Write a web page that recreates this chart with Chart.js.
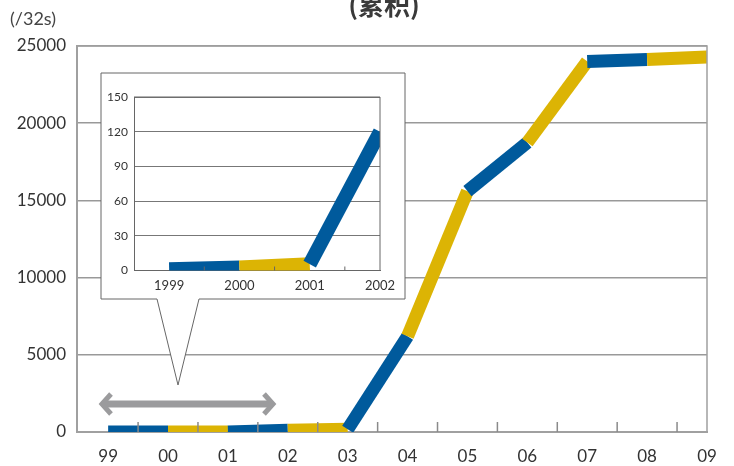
<!DOCTYPE html>
<html>
<head>
<meta charset="utf-8">
<script src="https://cdn.jsdelivr.net/npm/chart.js@4.4.1/dist/chart.umd.min.js"></script>
<style>
  html, body { margin: 0; padding: 0; background: #fff; }
  #wrap { position: relative; width: 734px; height: 466px; }
  #mainChart { position: absolute; left: 0; top: 0; }
  #insetChart { position: absolute; left: 101px; top: 73px; }
</style>
</head>
<body>
<div id="wrap">
  <canvas id="mainChart" width="734" height="466"></canvas>
  <canvas id="insetChart" width="304" height="226"></canvas>
</div>
<script>
// main chart data (cumulative)
let years = ['99', '00', '01', '02', '03', '04', '05', '06', '07', '08', '09'];
let totals = [1, 2.5, 5.5, 120, 180, 6200, 15600, 18750, 24000, 24120, 24280];
let yTicks = [0, 5000, 10000, 15000, 20000, 25000];

// inset data (1999-2002 zoomed)
let insetYears = ['1999', '2000', '2001', '2002'];
let insetTotals = [1, 2.5, 5.5, 120];
let insetTicks = [0, 30, 60, 90, 120, 150];

let blue = '#005a9c';
let yellow = '#dcb404';

Chart.defaults.font.family = "Lato, 'Noto Sans CJK SC', sans-serif";
Chart.defaults.color = '#333';

// frame on top/right of plot + short tick marks pointing into the plot
let innerTicks = {
  id: 'innerTicks',
  afterDatasetsDraw(chart, args, opts) {
    let ctx = chart.ctx;
    let area = chart.chartArea;
    let x = chart.scales.x;
    ctx.save();
    ctx.strokeStyle = opts.color;
    ctx.lineWidth = opts.width;
    for (let i = 0; i < opts.count; i++) {
      let px = x.getPixelForValue(i + 0.5);
      ctx.beginPath();
      ctx.moveTo(px, area.bottom);
      ctx.lineTo(px, area.bottom - opts.length);
      ctx.stroke();
    }
    ctx.strokeStyle = opts.frame;
    ctx.beginPath();
    ctx.moveTo(area.left, area.top);
    ctx.lineTo(area.right, area.top);
    ctx.lineTo(area.right, area.bottom);
    ctx.stroke();
    ctx.restore();
  }
};

// title, unit, inset box with callout, range arrow
let decor = {
  id: 'decor',
  afterDraw(chart) {
    let ctx = chart.ctx;
    ctx.save();
    ctx.fillStyle = '#3a3a3a';
    ctx.font = "bold 26px 'Noto Sans CJK SC'";
    ctx.textAlign = 'center';
    ctx.textBaseline = 'alphabetic';
    ctx.fillText('(累积)', 384, 15);

    ctx.fillStyle = '#444';
    ctx.font = '18px Lato';
    ctx.textAlign = 'left';
    ctx.fillText('(/32s)', 10, 25);

    // inset box + callout
    ctx.beginPath();
    ctx.moveTo(101, 73);
    ctx.lineTo(405, 73);
    ctx.lineTo(405, 299);
    ctx.lineTo(199, 299);
    ctx.lineTo(178, 385);
    ctx.lineTo(157, 299);
    ctx.lineTo(101, 299);
    ctx.closePath();
    ctx.fillStyle = '#fff';
    ctx.fill();
    ctx.strokeStyle = '#666';
    ctx.lineWidth = 1;
    ctx.stroke();

    // double arrow
    ctx.strokeStyle = '#9b9b9d';
    ctx.lineWidth = 7;
    ctx.beginPath();
    ctx.moveTo(104, 404);
    ctx.lineTo(270, 404);
    ctx.stroke();
    ctx.lineWidth = 5;
    ctx.lineJoin = 'miter';
    ctx.beginPath();
    ctx.moveTo(111, 394);
    ctx.lineTo(102, 404);
    ctx.lineTo(111, 414);
    ctx.moveTo(264, 394);
    ctx.lineTo(273, 404);
    ctx.lineTo(264, 414);
    ctx.stroke();
    ctx.restore();
  }
};

let alternate = ctx => ctx.p0DataIndex % 2 === 0 ? blue : yellow;

let mainCtx = document.getElementById('mainChart').getContext('2d');
let mainChart = new Chart(mainCtx, {
  type: 'line',
  data: {
    datasets: [{
      data: totals.map((v, i) => ({x: i, y: v})),
      borderColor: blue,
      borderWidth: 13,
      borderCapStyle: 'butt',
      borderJoinStyle: 'miter',
      pointRadius: 0,
      tension: 0,
      clip: 0,
      segment: { borderColor: alternate }
    }]
  },
  options: {
    responsive: false,
    animation: false,
    devicePixelRatio: 1,
    layout: { padding: { top: 46, right: 27, left: 0, bottom: 0 } },
    plugins: {
      legend: { display: false },
      tooltip: { enabled: false },
      innerTicks: { count: years.length - 1, length: 10, width: 1.5, color: '#8a8a8a', frame: '#a0a0a0' }
    },
    scales: {
      x: {
        type: 'linear',
        min: -0.52,
        max: 10,
        afterBuildTicks: s => { s.ticks = years.map((_, i) => ({value: i})); },
        afterFit: s => { s.height = 34; },
        ticks: { callback: v => years[v], font: { size: 17 }, padding: 6, maxRotation: 0, autoSkip: false },
        grid: { display: false },
        border: { color: '#a0a0a0', width: 2 }
      },
      y: {
        min: 0,
        max: 25000,
        afterBuildTicks: s => { s.ticks = yTicks.map(v => ({value: v})); },
        afterFit: s => { s.width = 77; },
        ticks: { callback: v => String(v), font: { size: 17 }, padding: 11 },
        grid: { color: '#999', lineWidth: 1.5, drawTicks: false },
        border: { color: '#a0a0a0', width: 2 }
      }
    }
  },
  plugins: [innerTicks, decor]
});

let insetCtx = document.getElementById('insetChart').getContext('2d');
let insetChart = new Chart(insetCtx, {
  type: 'line',
  data: {
    datasets: [{
      data: insetTotals.map((v, i) => ({x: i, y: v})),
      borderColor: blue,
      borderWidth: 14,
      borderCapStyle: 'butt',
      borderJoinStyle: 'miter',
      pointRadius: 0,
      tension: 0,
      clip: 0,
      segment: { borderColor: alternate }
    }]
  },
  options: {
    responsive: false,
    animation: false,
    devicePixelRatio: 1,
    layout: { padding: { top: 24, right: 25, left: 0, bottom: 0 } },
    plugins: {
      legend: { display: false },
      tooltip: { enabled: false },
      innerTicks: { count: insetYears.length - 1, length: 4, width: 1, color: '#666', frame: '#666' }
    },
    scales: {
      x: {
        type: 'linear',
        min: -0.5,
        max: 3,
        afterBuildTicks: s => { s.ticks = insetYears.map((_, i) => ({value: i})); },
        afterFit: s => { s.height = 28.5; },
        ticks: { callback: v => insetYears[v], font: { size: 13 }, padding: 0, maxRotation: 0, autoSkip: false },
        grid: { display: false },
        border: { color: '#666', width: 1 }
      },
      y: {
        min: 0,
        max: 150,
        afterBuildTicks: s => { s.ticks = insetTicks.map(v => ({value: v})); },
        afterFit: s => { s.width = 33; },
        ticks: { callback: v => String(v), font: { size: 12 }, padding: 6 },
        grid: { color: '#777', lineWidth: 1, drawTicks: false },
        border: { color: '#666', width: 1 }
      }
    }
  },
  plugins: [innerTicks]
});
</script>
</body>
</html>
